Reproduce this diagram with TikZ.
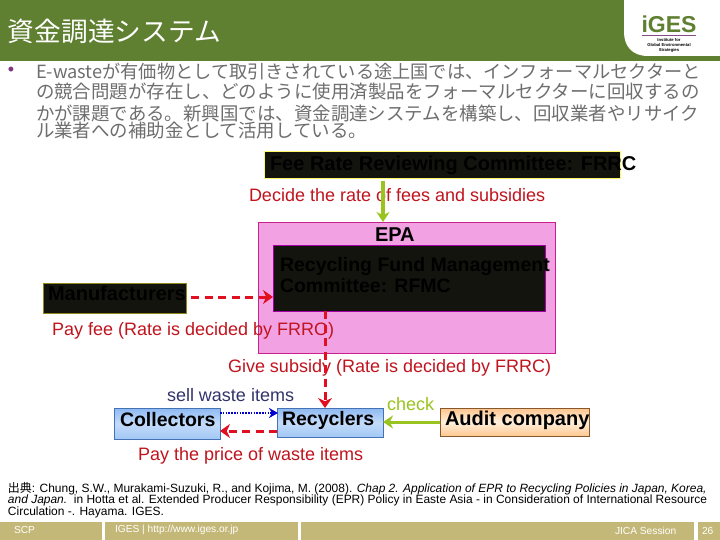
\documentclass[tikz,border=0pt]{standalone}
\usepackage{fontspec}
\setmainfont{Liberation Sans}
\newfontfamily\cjk{Noto Sans CJK JP}
\usetikzlibrary{arrows.meta}
\definecolor{hdr}{HTML}{5F7F31}
\definecolor{foot}{HTML}{C4B878}
\definecolor{bodygray}{HTML}{6E6E6E}
\definecolor{redt}{HTML}{C0141E}
\definecolor{redl}{HTML}{E01020}
\definecolor{lime}{HTML}{99C31E}
\definecolor{navyt}{HTML}{33336B}
\definecolor{dk}{HTML}{14140F}
\definecolor{pinkf}{HTML}{F2A2E2}
\definecolor{pinkd}{HTML}{C8208C}
\definecolor{bluet}{HTML}{8DB9F2}
\definecolor{bluem}{HTML}{C4DBFA}
\definecolor{bluee}{HTML}{A2C8F5}
\definecolor{blued}{HTML}{4472B4}
\definecolor{orat}{HTML}{FFC48C}
\definecolor{oram}{HTML}{FFF0DC}
\definecolor{orae}{HTML}{FFC890}
\tikzset{
  every node/.style={inner sep=0pt,outer sep=0pt},
  lbl/.style={anchor=west,font=\fontsize{#1}{#1}\selectfont},
  jline/.style={anchor=west,text=bodygray,font=\cjk\fontsize{#1}{#1}\selectfont},
  red lab/.style={lbl=18,text=redt},
  cite/.style={anchor=west,font=\fontsize{11.97}{11.97}\selectfont},
  footlab/.style={anchor=west,text=white,font=\fontsize{10.2}{10.2}\selectfont},
  darkbox/.style={draw=#1,fill=dk,line width=1pt,anchor=north west},
  bluebox/.style={draw=blued,line width=.8pt,top color=bluet,bottom color=bluee,middle color=bluem,anchor=north west},
  flowred/.style={draw=redl,line width=3pt,dash pattern=on 8pt off 5.5pt,-{Stealth[length=10pt,width=14pt]}},
  flowgreen/.style={draw=lime,line width=#1,-{Stealth[length=10pt,width=13pt]}},
  boxtext/.style={text=black,anchor=base west,font=\bfseries\fontsize{#1}{#1}\selectfont},
}
\begin{document}
\begin{tikzpicture}[x=1pt,y=-1pt]
\useasboundingbox (0,0) rectangle (720,540);
\fill[white] (0,0) rectangle (720,540);
% header
\fill[hdr] (0,0) rectangle (720,61);
\fill[white] (624,0) -- (720,0) -- (720,56) -- (648,56) .. controls (632,56) and (624,46) .. (624,32) -- cycle;
\node[anchor=west,text=white,font=\cjk\fontsize{26.7}{26.7}\selectfont] (title) at (8,31) {資金調達システム};
% logo
\node[text=hdr,font=\bfseries\fontsize{23}{23}\selectfont,anchor=center] (logo) at (669,24) {iGES};
\fill[violet!60!black!70] (642,35) rectangle (696,36.5);
\node[align=center,font=\bfseries\fontsize{4.2}{5}\selectfont,anchor=north] (logosub) at (669,38) {Institute for\\Global Environmental\\Strategies};
% body
\node[text=violet!60!gray,font=\fontsize{18}{18}\selectfont] (bullet) at (11,71.5) {•};
\node[jline=18.2] (j1) at (36,72) {E-wasteが有価物として取引きされている途上国では、インフォーマルセクターと};
\node[jline=18.45] (j2) at (36,92) {の競合問題が存在し、どのように使用済製品をフォーマルセクターに回収するの};
\node[jline=18.45] (j3) at (36,113) {かが課題である。新興国では、資金調達システムを構築し、回収業者やリサイク};
\node[jline=18.45] (j4) at (36,131) {ル業者への補助金として活用している。};
% committee
\node[darkbox=yellow!60,minimum width=356pt,minimum height=27pt] (frrc) at (264,152) {};
\node[boxtext=20] (frrct) at (270,171) {Fee Rate Reviewing Committee: FRRC};
% pink box
\node[draw=pinkd,fill=pinkf,line width=.8pt,minimum width=297pt,minimum height=131pt,anchor=north west] (epa) at (258,222) {};
\node[boxtext=20] (epat) at (375,241) {EPA};
\node[darkbox=violet!70!magenta,minimum width=272pt,minimum height=66pt] (rfmc) at (273,245) {};
\node[boxtext=19.5] (rf1) at (280,271) {Recycling Fund Management};
\node[boxtext=19.5] (rf2) at (280,292) {Committee: RFMC};
\node[darkbox=olive!80!gray,minimum width=143pt,minimum height=30pt] (manu) at (43,283) {};
\node[boxtext=20] (manut) at (48,300) {Manufacturers};
% labels
\node[red lab] (decide) at (249,195) {Decide the rate of fees and subsidies};
\node[red lab] (payfee) at (52,331) {Pay fee (Rate is decided by FRRO)};
\node[red lab] (give) at (228,368) {Give subsidy (Rate is decided by FRRC)};
\node[lbl=18,text=navyt] (sell) at (167,395) {sell waste items};
\node[lbl=18,text=lime] (check) at (387,404) {check};
\node[red lab] (payprice) at (138,456) {Pay the price of waste items};
% lower boxes
\node[bluebox,minimum width=106pt,minimum height=31pt] (coll) at (114,408) {};
\node[boxtext=19.5] (collt) at (120,426) {Collectors};
\node[bluebox,minimum width=106pt,minimum height=29pt] (recy) at (277,408) {};
\node[boxtext=19.5] (recyt) at (282,425) {Recyclers};
\node[draw=brown!70!black,line width=.8pt,top color=orat,bottom color=orae,middle color=oram,minimum width=149pt,minimum height=28pt,anchor=north west] (audit) at (440,408) {};
\node[boxtext=20] (auditt) at (445,425) {Audit company};
% connectors
\coordinate (frrcA) at (383,181);
\coordinate (epaA) at (383,222);
\draw[flowgreen=4pt] (frrcA) -- (epaA);
\coordinate (manuE) at (191,297);
\coordinate (rfmcW) at (273,297);
\draw[flowred] (manuE) -- (rfmcW);
\coordinate (rfmcS) at (325,311);
\coordinate (recyN) at (325,408);
\draw[flowred] (rfmcS) -- (recyN);
\coordinate (collE) at (220,413);
\coordinate (recyW) at (278,413);
\draw[draw=blue!80!black,line width=1.5pt,dash pattern=on 1.6pt off 1.2pt,-{Stealth[length=9pt,width=10pt]}] (collE) -- (recyW);
\coordinate (recyW2) at (277,431);
\coordinate (collE2) at (220,431);
\draw[flowred] (recyW2) -- (collE2);
\coordinate (auditW) at (440,422);
\coordinate (recyE) at (383,422);
\draw[flowgreen=3pt] (auditW) -- (recyE);
% citation
\node[cite] (c1) at (8,488.5) {{\cjk 出典}: Chung, S.W., Murakami-Suzuki, R., and Kojima, M. (2008). \textit{Chap 2. Application of EPR to Recycling Policies in Japan, Korea,}};
\node[cite] (c2) at (8,500) {\textit{and Japan.}\ \ in Hotta et al. Extended Producer Responsibility (EPR) Policy in Easte Asia - in Consideration of International Resource};
\node[cite] (c3) at (8,512) {Circulation -. Hayama. IGES.};
% footer
\fill[foot] (0,522) rectangle (102,540);
\fill[foot] (105,522) rectangle (298,540);
\fill[foot] (301,522) rectangle (694,540);
\fill[foot] (698,522) rectangle (720,540);
\node[footlab] (f1) at (14,530) {SCP};
\node[footlab] (f2) at (115,530) {IGES | http://www.iges.or.jp};
\node[footlab] (f3) at (615,531) {JICA Session};
\node[footlab] (f4) at (702,531) {26};
\end{tikzpicture}
\end{document}
